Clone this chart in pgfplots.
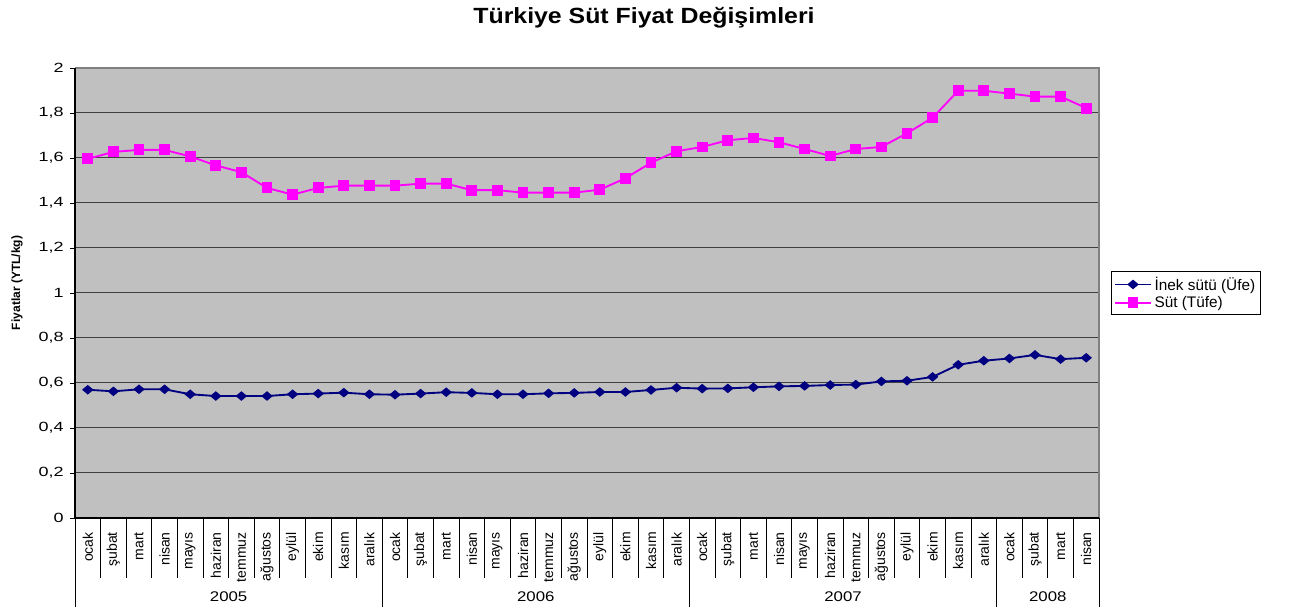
\documentclass[border=0pt]{standalone}
\usepackage{fontspec}
\setmainfont{Liberation Sans}
\usepackage{pgfplots}
\pgfplotsset{compat=1.18}
\definecolor{bg}{HTML}{C0C0C0}
\definecolor{inek}{HTML}{000080}
\definecolor{sut}{HTML}{FF00FF}
\begin{document}
\begin{tikzpicture}
\useasboundingbox (0,0) rectangle (974.25pt,457.5pt);
\node[font=\bfseries\fontsize{16.5}{19}\selectfont, xscale=1.13] at (483pt,444pt) {Türkiye Süt Fiyat Değişimleri};
\node[font=\bfseries\fontsize{9}{11}\selectfont, rotate=90] at (12.75pt,245.25pt) {Fiyatlar (YTL/kg)};
\begin{axis}[
  at={(56.25pt,69pt)}, anchor=south west,
  scale only axis, width=768pt, height=337.5pt,
  xmin=-0.5, xmax=39.5, ymin=0, ymax=2,
  clip=false,
  axis background/.style={fill=bg},
  axis line style={draw=none},
  ytick={0,0.2,0.4,0.6,0.8,1,1.2,1.4,1.6,1.8,2},
  ytick pos=left, xtick pos=bottom,
  yticklabel style={font=\fontsize{10}{12}\selectfont, xscale=1.35, /pgf/number format/.cd, use comma, fixed, precision=1, assume math mode=true},
  ymajorgrids, major grid style={draw=black!75, line width=0.75pt},
  tick align=outside, major tick length=3.75pt,
  ytick style={draw=black, line width=0.6pt},
  xtick={0,...,39},
  xtick style={draw=none},
  xticklabels={ocak,şubat,mart,nisan,mayıs,haziran,temmuz,ağustos,eylül,ekim,kasım,aralık,
               ocak,şubat,mart,nisan,mayıs,haziran,temmuz,ağustos,eylül,ekim,kasım,aralık,
               ocak,şubat,mart,nisan,mayıs,haziran,temmuz,ağustos,eylül,ekim,kasım,aralık,
               ocak,şubat,mart,nisan},
  xticklabel style={rotate=90, anchor=east, inner sep=0pt, font=\fontsize{10.5}{12}\selectfont},
  xticklabel shift=6.75pt,
  legend style={at={(1,0.5)}, anchor=west, xshift=9pt, draw=black, line width=0.6pt,
    font=\fontsize{11.5}{13}\selectfont, inner sep=2pt, row sep=-1pt, cells={anchor=west}},
  legend image code/.code={\draw[mark repeat=2,mark phase=2,#1] plot coordinates {(0pt,0pt) (13.5pt,0pt) (27pt,0pt)};},
]
\addplot[color=inek, line width=1.4pt, mark=diamond*, mark size=2.7pt, mark options={xscale=1.6, solid}] table[x expr=\coordindex, y index=0] {
y
0.570
0.563
0.572
0.572
0.550
0.542
0.542
0.542
0.550
0.553
0.557
0.550
0.548
0.553
0.559
0.556
0.550
0.550
0.554
0.556
0.560
0.560
0.569
0.579
0.575
0.576
0.581
0.585
0.587
0.591
0.593
0.607
0.610
0.627
0.681
0.699
0.709
0.725
0.706
0.712
};
\addlegendentry{İnek sütü (Üfe)}
\addplot[color=sut, line width=1.4pt, mark=square*, mark size=3.4pt, mark options={solid}] table[x expr=\coordindex, y index=0] {
y
1.596
1.627
1.636
1.636
1.607
1.567
1.537
1.467
1.437
1.467
1.477
1.477
1.477
1.486
1.486
1.457
1.457
1.446
1.446
1.446
1.459
1.510
1.579
1.630
1.649
1.679
1.689
1.670
1.640
1.609
1.640
1.649
1.710
1.779
1.899
1.899
1.886
1.873
1.873
1.822
};
\addlegendentry{Süt (Tüfe)}
\draw[gray, line width=0.9pt] (rel axis cs:0,1) -- (rel axis cs:1,1) -- (rel axis cs:1,0);
\draw[black, line width=0.9pt] (rel axis cs:0,1) -- (rel axis cs:0,0) -- (rel axis cs:1,0);
\pgfplotsinvokeforeach{0,...,38}{\draw[black, line width=0.6pt] (axis cs:{#1+0.5},0) -- ++(0pt,-45pt);}
\pgfplotsinvokeforeach{-0.5,11.5,23.5,35.5,39.5}{\draw[black, line width=0.6pt] (axis cs:#1,0) -- ++(0pt,-66.75pt);}
\node[font=\fontsize{10.5}{12}\selectfont, xscale=1.2, yshift=-59.25pt] at (axis cs:5.5,0) {2005};
\node[font=\fontsize{10.5}{12}\selectfont, xscale=1.2, yshift=-59.25pt] at (axis cs:17.5,0) {2006};
\node[font=\fontsize{10.5}{12}\selectfont, xscale=1.2, yshift=-59.25pt] at (axis cs:29.5,0) {2007};
\node[font=\fontsize{10.5}{12}\selectfont, xscale=1.2, yshift=-59.25pt] at (axis cs:37.5,0) {2008};
\end{axis}
\end{tikzpicture}
\end{document}
